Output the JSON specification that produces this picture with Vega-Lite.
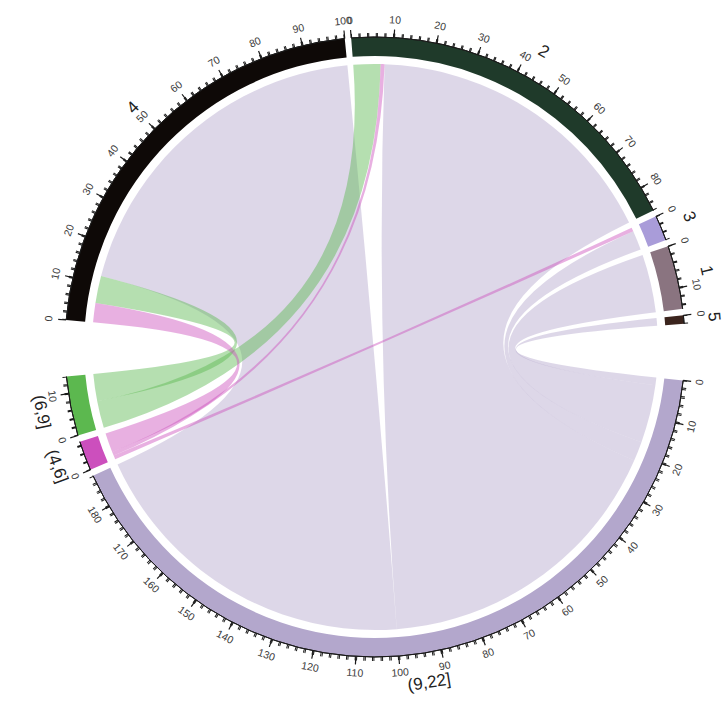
{
  "$schema": "https://vega.github.io/schema/vega-lite/v6.json",
  "width": 700,
  "height": 694,
  "autosize": "none",
  "padding": {"left": 25, "top": 0, "right": 0, "bottom": 24},
  "background": "white",
  "config": {"view": {"stroke": null}, "font": "Liberation Sans"},
  "data": {
    "values": [
      {"kind": "sector", "sector": "4", "grp": "a", "ord": 1, "len": 100},
      {"kind": "sector", "sector": "2", "grp": "a", "ord": 2, "len": 86},
      {"kind": "sector", "sector": "3", "grp": "a", "ord": 3, "len": 6},
      {"kind": "sector", "sector": "1", "grp": "a", "ord": 4, "len": 15},
      {"kind": "sector", "sector": "5", "grp": "a", "ord": 5, "len": 2},
      {"kind": "sector", "sector": "(9,22]", "grp": "b", "ord": 6, "len": 188},
      {"kind": "sector", "sector": "(4,6]", "grp": "b", "ord": 7, "len": 7},
      {"kind": "sector", "sector": "(6,9]", "grp": "b", "ord": 8, "len": 14},

      {"kind": "link", "id": 1, "sector": "4", "p0": 12, "p1": 100, "tgt": "(9,22]", "q0": 100, "q1": 188},
      {"kind": "link", "id": 2, "sector": "2", "p0": 8, "p1": 86, "tgt": "(9,22]", "q0": 22, "q1": 100},
      {"kind": "link", "id": 3, "sector": "3", "p0": 1, "p1": 6, "tgt": "(9,22]", "q0": 17, "q1": 22},
      {"kind": "link", "id": 4, "sector": "1", "p0": 0, "p1": 15, "tgt": "(9,22]", "q0": 2, "q1": 17},
      {"kind": "link", "id": 5, "sector": "5", "p0": 0, "p1": 2, "tgt": "(9,22]", "q0": 0, "q1": 2},
      {"kind": "link", "id": 6, "sector": "4", "p0": 5, "p1": 12, "tgt": "(6,9]", "q0": 7, "q1": 14},
      {"kind": "link", "id": 7, "sector": "2", "p0": 0, "p1": 7, "tgt": "(6,9]", "q0": 0, "q1": 7},
      {"kind": "link", "id": 8, "sector": "4", "p0": 0, "p1": 5, "tgt": "(4,6]", "q0": 2, "q1": 7},
      {"kind": "link", "id": 9, "sector": "2", "p0": 7, "p1": 8, "tgt": "(4,6]", "q0": 1, "q1": 2},
      {"kind": "link", "id": 10, "sector": "3", "p0": 0, "p1": 1, "tgt": "(4,6]", "q0": 0, "q1": 1},

      {"kind": "tick", "sector": "4", "v": 0}, {"kind": "tick", "sector": "4", "v": 10},
      {"kind": "tick", "sector": "4", "v": 20}, {"kind": "tick", "sector": "4", "v": 30},
      {"kind": "tick", "sector": "4", "v": 40}, {"kind": "tick", "sector": "4", "v": 50},
      {"kind": "tick", "sector": "4", "v": 60}, {"kind": "tick", "sector": "4", "v": 70},
      {"kind": "tick", "sector": "4", "v": 80}, {"kind": "tick", "sector": "4", "v": 90},
      {"kind": "tick", "sector": "4", "v": 100},
      {"kind": "tick", "sector": "2", "v": 0}, {"kind": "tick", "sector": "2", "v": 10},
      {"kind": "tick", "sector": "2", "v": 20}, {"kind": "tick", "sector": "2", "v": 30},
      {"kind": "tick", "sector": "2", "v": 40}, {"kind": "tick", "sector": "2", "v": 50},
      {"kind": "tick", "sector": "2", "v": 60}, {"kind": "tick", "sector": "2", "v": 70},
      {"kind": "tick", "sector": "2", "v": 80},
      {"kind": "tick", "sector": "3", "v": 0},
      {"kind": "tick", "sector": "1", "v": 0}, {"kind": "tick", "sector": "1", "v": 10},
      {"kind": "tick", "sector": "5", "v": 0},
      {"kind": "tick", "sector": "(9,22]", "v": 0}, {"kind": "tick", "sector": "(9,22]", "v": 10},
      {"kind": "tick", "sector": "(9,22]", "v": 20}, {"kind": "tick", "sector": "(9,22]", "v": 30},
      {"kind": "tick", "sector": "(9,22]", "v": 40}, {"kind": "tick", "sector": "(9,22]", "v": 50},
      {"kind": "tick", "sector": "(9,22]", "v": 60}, {"kind": "tick", "sector": "(9,22]", "v": 70},
      {"kind": "tick", "sector": "(9,22]", "v": 80}, {"kind": "tick", "sector": "(9,22]", "v": 90},
      {"kind": "tick", "sector": "(9,22]", "v": 100}, {"kind": "tick", "sector": "(9,22]", "v": 110},
      {"kind": "tick", "sector": "(9,22]", "v": 120}, {"kind": "tick", "sector": "(9,22]", "v": 130},
      {"kind": "tick", "sector": "(9,22]", "v": 140}, {"kind": "tick", "sector": "(9,22]", "v": 150},
      {"kind": "tick", "sector": "(9,22]", "v": 160}, {"kind": "tick", "sector": "(9,22]", "v": 170},
      {"kind": "tick", "sector": "(9,22]", "v": 180},
      {"kind": "tick", "sector": "(4,6]", "v": 0},
      {"kind": "tick", "sector": "(6,9]", "v": 0}, {"kind": "tick", "sector": "(6,9]", "v": 10}
    ]
  },
  "transform": [
    {"joinaggregate": [{"op": "max", "field": "ord", "as": "lastOrd"}], "groupby": ["grp"]},
    {"calculate": "datum.kind === 'sector' ? datum.len + (datum.ord === datum.lastOrd ? 13.2 : 1.5) : 0", "as": "span"},
    {"window": [{"op": "sum", "field": "span", "as": "cum"}], "sort": [{"field": "ord", "order": "ascending"}], "frame": [null, 0]},
    {"calculate": "datum.kind === 'sector' ? datum.cum - datum.span : null", "as": "secStart"},
    {"joinaggregate": [{"op": "max", "field": "secStart", "as": "offA"}], "groupby": ["sector"]},
    {"calculate": "datum.kind === 'sector' ? datum.sector : datum.tgt", "as": "tkey"},
    {"joinaggregate": [{"op": "max", "field": "secStart", "as": "offB"}], "groupby": ["tkey"]},
    {"calculate": "datum.offA + (datum.kind === 'sector' ? 0 : datum.kind === 'tick' ? datum.v : datum.p0)", "as": "u0"},
    {"calculate": "datum.offA + (datum.kind === 'sector' ? datum.len : datum.kind === 'tick' ? datum.v : datum.p1)", "as": "u1"},
    {"calculate": "(datum.u0 + datum.u1) / 2", "as": "um"},
    {"calculate": "-85 + datum.um * 360 / 453.4", "as": "deg"},
    {"calculate": "datum.deg > 90 ? datum.deg - 180 : datum.deg", "as": "ang"}
  ],
  "layer": [
    {
      "transform": [
        {"filter": "datum.kind === 'link'"},
        {"calculate": "datum.offB + datum.q0", "as": "w0"},
        {"calculate": "datum.offB + datum.q1", "as": "w1"},
        {"calculate": "-85 * PI / 180 + datum.u0 * 2 * PI / 453.4", "as": "a0"},
        {"calculate": "-85 * PI / 180 + datum.u1 * 2 * PI / 453.4", "as": "a1"},
        {"calculate": "-85 * PI / 180 + datum.w0 * 2 * PI / 453.4", "as": "b0"},
        {"calculate": "-85 * PI / 180 + datum.w1 * 2 * PI / 453.4", "as": "b1"},
        {"calculate": "round(sin(datum.a0) * 100000) / 100000 + ',' + round(-cos(datum.a0) * 100000) / 100000", "as": "pa0"},
        {"calculate": "round(sin(datum.a1) * 100000) / 100000 + ',' + round(-cos(datum.a1) * 100000) / 100000", "as": "pa1"},
        {"calculate": "round(sin(datum.b0) * 100000) / 100000 + ',' + round(-cos(datum.b0) * 100000) / 100000", "as": "pb0"},
        {"calculate": "round(sin(datum.b1) * 100000) / 100000 + ',' + round(-cos(datum.b1) * 100000) / 100000", "as": "pb1"},
        {"calculate": "'M' + datum.pa0 + 'A1,1,0,0,1,' + datum.pa1 + 'Q0,0,' + datum.pb0 + 'A1,1,0,0,1,' + datum.pb1 + 'Q0,0,' + datum.pa0 + 'Z'", "as": "ribbon"}
      ],
      "mark": {"type": "point", "filled": true, "opacity": 1, "fillOpacity": 0.45, "strokeOpacity": 0},
      "encoding": {
        "shape": {"field": "ribbon", "type": "nominal", "scale": null},
        "size": {"value": 320356},
        "order": {"field": "id", "type": "quantitative"},
        "color": {
          "field": "tgt", "type": "nominal", "legend": null,
          "scale": {
            "domain": ["4", "2", "3", "1", "5", "(9,22]", "(4,6]", "(6,9]"],
            "range": ["#0e0907", "#1f3a2a", "#a99cd9", "#8a7480", "#3b241d", "#b3a7cc", "#cc4fbd", "#5cb84f"]
          }
        }
      }
    },
    {
      "transform": [{"filter": "datum.kind === 'sector'"}],
      "mark": {"type": "arc"},
      "encoding": {
        "theta": {"field": "u0", "type": "quantitative", "stack": null,
                  "scale": {"domain": [0, 453.4], "range": [-1.48353, 4.79966], "nice": false, "zero": false}},
        "theta2": {"field": "u1"},
        "radius": {"value": 310},
        "radius2": {"value": 291},
        "color": {
          "field": "sector", "type": "nominal", "legend": null,
          "scale": {
            "domain": ["4", "2", "3", "1", "5", "(9,22]", "(4,6]", "(6,9]"],
            "range": ["#0e0907", "#1f3a2a", "#a99cd9", "#8a7480", "#3b241d", "#b3a7cc", "#cc4fbd", "#5cb84f"]
          }
        }
      }
    },
    {
      "transform": [{"filter": "datum.kind === 'sector'"}],
      "mark": {"type": "arc", "filled": false, "stroke": "#1a1a1a", "strokeWidth": 1},
      "encoding": {
        "theta": {"field": "u0", "type": "quantitative", "stack": null},
        "theta2": {"field": "u1"},
        "radius": {"value": 310},
        "radius2": {"value": 310}
      }
    },
    {
      "transform": [{"filter": "datum.kind === 'sector'"}],
      "mark": {"type": "arc", "filled": false, "stroke": "#1a1a1a", "strokeWidth": 4, "strokeDash": [1, 7.6473]},
      "encoding": {
        "theta": {"field": "u0", "type": "quantitative", "stack": null},
        "theta2": {"field": "u1"},
        "radius": {"value": 312},
        "radius2": {"value": 312}
      }
    },
    {
      "transform": [{"filter": "datum.kind === 'tick'"}],
      "mark": {"type": "arc", "filled": false, "stroke": "#1a1a1a", "strokeWidth": 1.2},
      "encoding": {
        "theta": {"field": "u0", "type": "quantitative", "stack": null},
        "theta2": {"field": "u0"},
        "radius": {"value": 318},
        "radius2": {"value": 310}
      }
    },
    {
      "transform": [{"filter": "datum.kind === 'tick'"}],
      "mark": {"type": "text", "fontSize": 10.5, "fill": "#3a3a3a", "align": "center", "baseline": "middle"},
      "encoding": {
        "theta": {"field": "um", "type": "quantitative", "stack": null},
        "radius": {"value": 327},
        "angle": {"field": "ang", "type": "quantitative", "scale": null},
        "text": {"field": "v", "type": "nominal"}
      }
    },
    {
      "transform": [{"filter": "datum.kind === 'sector'"}],
      "mark": {"type": "text", "fontSize": 17, "fill": "#222222", "align": "center", "baseline": "middle"},
      "encoding": {
        "theta": {"field": "um", "type": "quantitative", "stack": null},
        "radius": {"value": 340},
        "angle": {"field": "ang", "type": "quantitative", "scale": null},
        "text": {"field": "sector", "type": "nominal"}
      }
    }
  ]
}
